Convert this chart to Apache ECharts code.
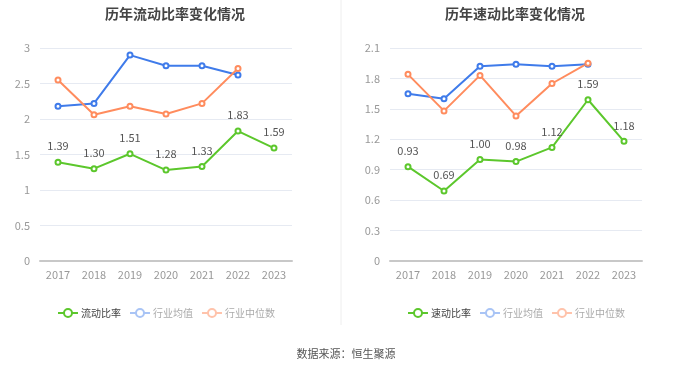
<!DOCTYPE html>
<html><head><meta charset="utf-8">
<script src="https://cdn.jsdelivr.net/npm/echarts@6/dist/echarts.min.js"></script>
<style>html,body{margin:0;padding:0;background:#fff}#c{width:680px;height:367px}</style>
</head><body><div id="c"></div>
<script>
const years = ['2017','2018','2019','2020','2021','2022','2023'];
const currentRatio = [1.39,1.30,1.51,1.28,1.33,1.83,1.59];
const currentAvg = [2.18,2.22,2.90,2.75,2.75,2.62,null];
const currentMedian = [2.55,2.06,2.18,2.07,2.22,2.71,null];
const quickRatio = [0.93,0.69,1.00,0.98,1.12,1.59,1.18];
const quickAvg = [1.65,1.60,1.92,1.94,1.92,1.94,null];
const quickMedian = [1.84,1.48,1.83,1.43,1.75,1.95,null];
const leftTicks = {min:0,max:3,interval:0.5};
const rightTicks = {min:0,max:2.1,interval:0.3};

const GREEN='#5cc72c', BLUE='#3f7bea', ORANGE='#ff8c5e';
const font='"Noto Sans CJK SC", "Noto Sans", sans-serif';
const chart = echarts.init(document.getElementById('c'));

function xAxis(i){return {type:'category',gridIndex:i,data:years,boundaryGap:true,
  axisLine:{lineStyle:{color:'#c8c8c8',width:2}},axisTick:{show:false},
  axisLabel:{color:'#999',fontSize:11,fontFamily:font,margin:8}};}
function yAxis(i,t){return {type:'value',gridIndex:i,min:t.min,max:t.max,interval:t.interval,
  axisLine:{show:false},axisTick:{show:false},
  splitLine:{lineStyle:{color:'#e6eaf2'}},
  axisLabel:{color:'#999',fontSize:11,fontFamily:font,margin:10}};}
function line(name,data,color,i,label){return {name:name,type:'line',xAxisIndex:i,yAxisIndex:i,data:data,
  symbol:'emptyCircle',symbolSize:5,showSymbol:true,lineStyle:{color:color,width:2},itemStyle:{color:color},
  label:label?{show:true,position:'top',distance:7,color:'#555',fontSize:11,fontFamily:font,formatter:p=>p.value.toFixed(2)}:{show:false},
  z:label?3:2};}
function legend(left,names){return {left:left,top:303,itemWidth:20,itemHeight:10,itemGap:8,
  textStyle:{fontSize:10,fontFamily:font,color:'#444',padding:[0,0,0,-2]},
  data:[{name:names[0]},
        {name:names[1],itemStyle:{color:'#a9c4f5',borderColor:'#a9c4f5'},lineStyle:{color:'#a9c4f5'},textStyle:{color:'#aaa'}},
        {name:names[2],itemStyle:{color:'#ffc3ab',borderColor:'#ffc3ab'},lineStyle:{color:'#ffc3ab'},textStyle:{color:'#aaa'}}]};}

chart.setOption({
  animation:false,
  title:[
    {text:'历年流动比率变化情况',left:170,top:2,textAlign:'center',textStyle:{fontSize:14,fontWeight:'bold',color:'#444',fontFamily:font}},
    {text:'历年速动比率变化情况',left:510,top:2,textAlign:'center',textStyle:{fontSize:14,fontWeight:'bold',color:'#444',fontFamily:font}},
    {text:'数据来源：恒生聚源',left:341,top:343,textAlign:'center',textStyle:{fontSize:11,fontWeight:'normal',color:'#555',fontFamily:font}}
  ],
  legend:[legend(52,['流动比率','行业均值','行业中位数']), legend(402,['速动比率','行业均值','行业中位数'])],
  grid:[{left:40,top:48,width:252,height:213},{left:390,top:48,width:252,height:213}],
  xAxis:[xAxis(0),xAxis(1)],
  yAxis:[yAxis(0,leftTicks),yAxis(1,rightTicks)],
  series:[
    line('流动比率',currentRatio,GREEN,0,true),
    line('行业均值',currentAvg,BLUE,0,false),
    line('行业中位数',currentMedian,ORANGE,0,false),
    line('速动比率',quickRatio,GREEN,1,true),
    line('行业均值',quickAvg,BLUE,1,false),
    line('行业中位数',quickMedian,ORANGE,1,false)
  ],
  graphic:[{type:'line',shape:{x1:341,y1:0,x2:341,y2:325},style:{stroke:'#eee',lineWidth:1}}]
});
</script></body></html>
